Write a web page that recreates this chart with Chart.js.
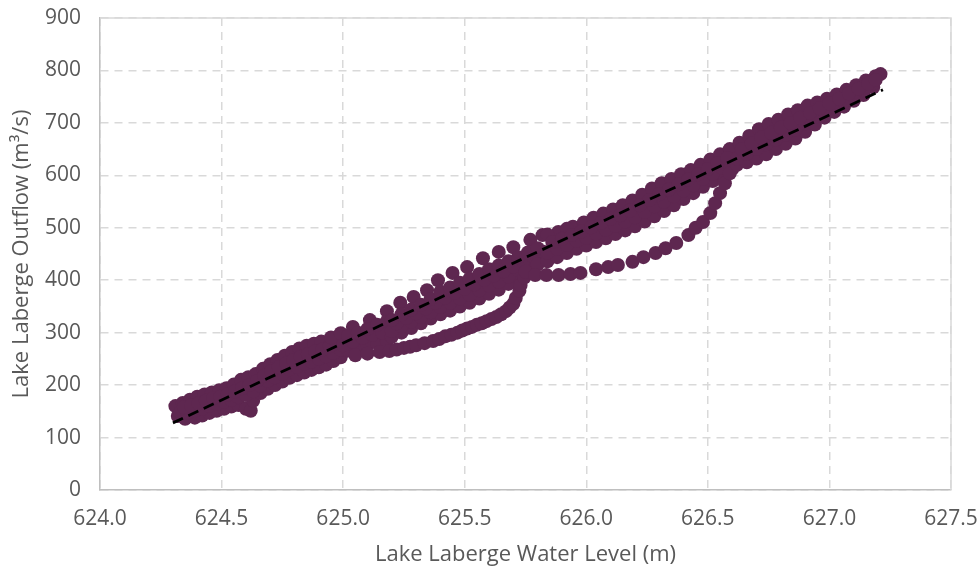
<!DOCTYPE html>
<html>
<head>
<meta charset="utf-8">
<script src="https://cdn.jsdelivr.net/npm/chart.js@4.4.1/dist/chart.umd.min.js"></script>
<style>
  html, body { margin: 0; padding: 0; background: #fff; }
  #wrap { width: 980px; height: 571px; }
</style>
</head>
<body>
<div id="wrap"><canvas id="levelChart"></canvas></div>
<script>
// water level (m) vs outflow (m3/s)
const leftUpper = [[624.31,160],[624.34,166],[624.37,172],[624.40,178],[624.43,182],[624.46,186],[624.49,190],[624.52,194],[624.55,201],[624.58,210],[624.61,215],[624.64,221],[624.67,231],[624.70,240],[624.73,248],[624.76,256],[624.79,263],[624.82,270],[624.85,275],[624.88,279],[624.91,283]];
const leftLower = [[624.32,141],[624.35,136],[624.39,138],[624.42,142],[624.45,147],[624.48,151],[624.51,155],[624.54,159],[624.57,162],[624.60,155],[624.62,151],[624.63,170],[624.66,185],[624.69,193],[624.72,200],[624.75,207],[624.78,214],[624.81,219],[624.84,224],[624.87,229],[624.90,234],[624.93,239],[624.96,246],[624.99,253]];
const leftInnerA = [[624.33,148],[624.36,147],[624.39,151],[624.42,155],[624.45,160],[624.48,164],[624.51,168],[624.54,172],[624.57,177],[624.60,181],[624.63,188],[624.66,199],[624.69,208],[624.72,215],[624.75,222],[624.78,230],[624.81,235],[624.84,241],[624.87,245],[624.90,250],[624.93,255],[624.96,261],[624.99,268]];
const leftInnerB = [[624.345,158],[624.375,161],[624.405,165],[624.435,170],[624.465,175],[624.495,178],[624.525,182],[624.555,188],[624.585,194],[624.615,200],[624.645,208],[624.675,218],[624.705,227],[624.735,234],[624.765,241],[624.795,248],[624.825,254],[624.855,259],[624.885,264],[624.915,268],[624.945,274],[624.975,280]];
const upperDots = [[624.95,291],[624.99,299],[625.04,311],[625.11,324],[625.18,341],[625.235,357],[625.29,368],[625.345,381],[625.39,400],[625.45,414],[625.51,425],[625.575,442],[625.64,454],[625.70,463],[625.77,477],[625.82,486],[625.885,492],[625.945,502]];
const joinInner = [[625.02,266],[625.06,272],[625.10,276],[625.14,280],[625.18,284],[625.00,276],[625.04,283],[625.08,290],[625.12,296],[625.16,300],[625.02,294],[625.06,300],[625.10,307],[625.14,315],[625.18,322]];
const midLower = [[625.20,292],[625.24,300],[625.28,309],[625.32,318],[625.36,327],[625.40,335],[625.44,342],[625.48,350],[625.52,357],[625.56,365],[625.60,374],[625.64,382],[625.68,393],[625.72,406],[625.76,418]];
const midInnerA = [[625.20,303],[625.24,312],[625.28,321],[625.32,330],[625.36,339],[625.40,349],[625.44,357],[625.48,365],[625.52,372],[625.56,381],[625.60,390],[625.64,397],[625.68,407],[625.72,419],[625.76,430],[625.80,440]];
const midInnerB = [[625.22,318],[625.26,328],[625.30,337],[625.34,346],[625.38,357],[625.42,367],[625.46,376],[625.50,384],[625.54,392],[625.58,401],[625.62,409],[625.66,417],[625.70,426],[625.74,436],[625.78,446],[625.82,455]];
const midInnerC = [[625.20,324],[625.24,335],[625.28,344],[625.32,353],[625.36,364],[625.40,378],[625.44,386],[625.48,395],[625.52,403],[625.56,412],[625.60,421],[625.64,428],[625.68,436],[625.72,444],[625.76,453],[625.80,461]];
const leftLoop = [[625.05,257],[625.10,260],[625.15,263],[625.19,265],[625.22,268],[625.25,271],[625.275,273],[625.30,276],[625.335,280],[625.37,284],[625.395,288],[625.42,293],[625.445,296],[625.47,300],[625.49,304],[625.51,308],[625.53,311],[625.55,315],[625.57,318],[625.59,322],[625.61,326],[625.63,330],[625.65,335],[625.67,341],[625.685,348],[625.70,355],[625.71,366],[625.725,380],[625.73,391],[625.745,405],[625.75,416]];
const rightUpper = [[625.84,487],[625.92,498],[625.99,510],[626.03,519],[626.07,527],[626.11,535],[626.15,543],[626.19,552],[626.23,563],[626.27,575],[626.31,585],[626.35,593],[626.39,602],[626.43,610],[626.47,620],[626.51,630],[626.55,640],[626.59,650]];
const rightLower = [[625.80,430],[625.84,436],[625.88,444],[625.92,452],[625.96,460],[626.00,466],[626.04,473],[626.08,480],[626.12,488],[626.16,495],[626.20,503],[626.24,512],[626.28,522],[626.32,532],[626.36,543],[626.40,555],[626.44,566],[626.48,578],[626.52,589],[626.56,600],[626.60,612]];
const rightInnerA = [[625.84,453],[625.88,460],[625.92,467],[625.96,475],[626.00,481],[626.04,489],[626.08,496],[626.12,504],[626.16,512],[626.20,520],[626.24,530],[626.28,541],[626.32,550],[626.36,560],[626.40,571],[626.44,581],[626.48,593],[626.52,603],[626.56,614]];
const rightInnerB = [[625.86,473],[625.90,479],[625.94,486],[625.98,493],[626.02,501],[626.06,509],[626.10,517],[626.14,524],[626.18,533],[626.22,543],[626.26,553],[626.30,564],[626.34,573],[626.38,583],[626.42,592],[626.46,602],[626.50,612],[626.54,623],[626.58,633]];
const rightLoop = [[625.79,410],[625.836,410],[625.886,410],[625.935,412],[625.976,414],[626.04,421],[626.09,425],[626.13,429],[626.19,435],[626.235,444],[626.285,452],[626.326,461],[626.37,471],[626.42,486],[626.45,500],[626.48,511],[626.51,528],[626.53,547],[626.55,566],[626.57,585],[626.59,604],[626.62,620],[626.65,630]];
const topUpper = [[626.63,662],[626.67,675],[626.71,688],[626.75,698],[626.79,706],[626.83,716],[626.87,724],[626.91,733],[626.95,739],[626.99,746],[627.03,754],[627.07,763],[627.11,772],[627.15,781],[627.19,789],[627.21,793]];
const topLower = [[626.66,625],[626.70,632],[626.74,640],[626.78,650],[626.82,660],[626.86,670],[626.90,683],[626.94,697],[626.98,710],[627.02,721],[627.06,731],[627.10,742],[627.14,753],[627.18,768]];
const topInnerA = [[626.62,632],[626.66,641],[626.70,650],[626.74,659],[626.78,668],[626.82,678],[626.86,687],[626.90,699],[626.94,711],[626.98,722],[627.02,731],[627.06,741],[627.10,751],[627.14,762],[627.18,775]];
const topInnerB = [[626.64,650],[626.68,661],[626.72,672],[626.76,681],[626.80,691],[626.84,700],[626.88,710],[626.92,719],[626.96,728],[627.00,737],[627.04,746],[627.08,756],[627.12,765],[627.16,775],[627.19,782]];

// linear fit drawn as dashed line
const trendX = [624.30, 627.22];
const trendY = [128, 763];

const tracks = [leftUpper, leftLower, leftInnerA, leftInnerB, upperDots, joinInner, midLower, midInnerA, midInnerB, midInnerC,
  leftLoop, rightUpper, rightLower, rightInnerA, rightInnerB, rightLoop, topUpper, topLower, topInnerA, topInnerB];
const obs = [];
tracks.forEach(t => t.forEach(p => obs.push({ x: p[0], y: p[1] })));

const textColor = '#595959';
const family = "'Open Sans', 'Noto Sans', sans-serif";

// light frame on top and right like the spreadsheet plot area
const frame = {
  id: 'frame',
  afterDraw(c) {
    const a = c.chartArea, g = c.ctx;
    g.save();
    g.strokeStyle = '#d9d9d9';
    g.lineWidth = 1.5;
    g.beginPath();
    g.moveTo(a.left, a.top);
    g.lineTo(a.right, a.top);
    g.lineTo(a.right, a.bottom);
    g.stroke();
    g.restore();
  }
};

const ctx = document.getElementById('levelChart').getContext('2d');
new Chart(ctx, {
  type: 'scatter',
  data: {
    datasets: [{
      label: 'Linear fit',
      data: trendX.map((x, i) => ({ x: x, y: trendY[i] })),
      showLine: true,
      borderColor: '#000',
      borderWidth: 2.8,
      borderDash: [11, 6],
      pointRadius: 0,
      fill: false
    }, {
      label: 'Observed',
      data: obs,
      backgroundColor: '#5e2750',
      borderColor: '#5e2750',
      borderWidth: 0,
      pointRadius: 7,
      pointHoverRadius: 7
    }]
  },
  options: {
    responsive: true,
    maintainAspectRatio: false,
    animation: false,
    layout: { padding: { top: 18, right: 29, left: 0, bottom: 0 } },
    plugins: { legend: { display: false }, tooltip: { enabled: false } },
    scales: {
      x: {
        type: 'linear',
        min: 624, max: 627.5,
        afterFit: s => { s.height = 81; s.paddingLeft = 0; s.paddingRight = 0; },
        ticks: { stepSize: 0.5, color: textColor, font: { family: family, size: 21 }, padding: 16, callback: v => v.toFixed(1) },
        grid: { color: '#d9d9d9', lineWidth: 1.5, drawTicks: false },
        border: { display: true, color: '#bfbfbf', width: 1.5, dash: [8, 6] },
        title: { display: true, text: 'Lake Laberge Water Level (m)', color: textColor, font: { family: family, size: 22 }, padding: { top: 0, bottom: 3 } }
      },
      y: {
        min: 0, max: 900,
        afterFit: s => { s.width = 100; s.paddingTop = 0; s.paddingBottom = 0; },
        ticks: { stepSize: 100, color: textColor, font: { family: family, size: 21 }, padding: 19 },
        grid: { color: '#d9d9d9', lineWidth: 1.5, drawTicks: false },
        border: { display: true, color: '#bfbfbf', width: 1.5, dash: [8, 6] },
        title: { display: true, text: 'Lake Laberge Outflow (m³/s)', color: textColor, font: { family: family, size: 22 }, padding: { top: 9, bottom: 4 } }
      }
    }
  },
  plugins: [frame]
});
</script>
</body>
</html>
